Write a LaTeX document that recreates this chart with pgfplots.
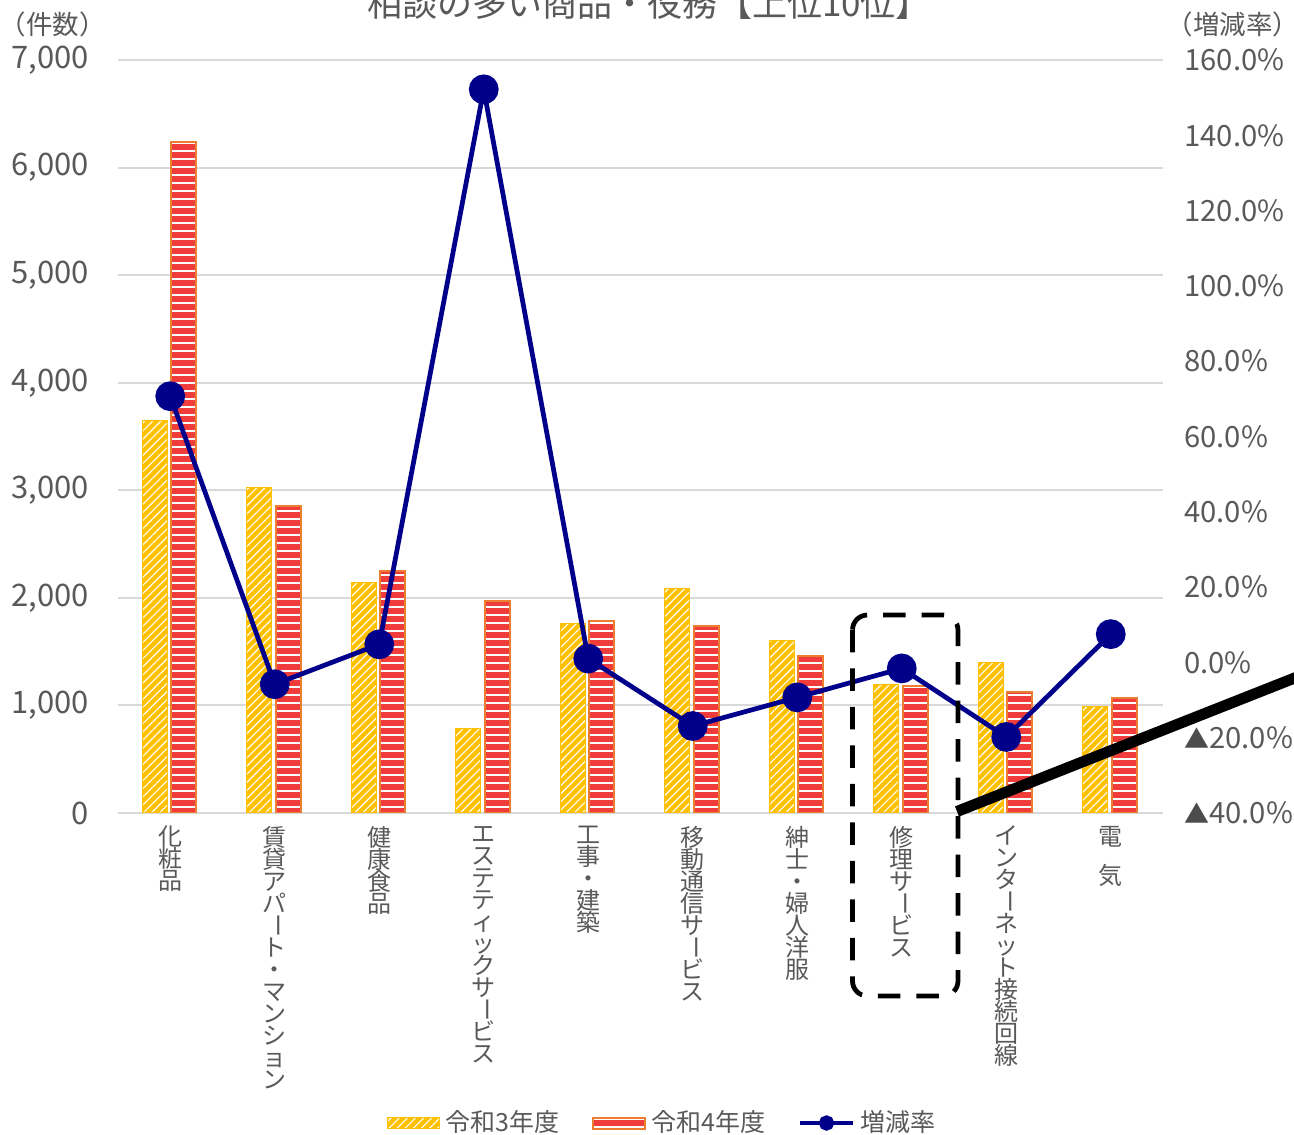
\documentclass[border=0pt]{standalone}
\usepackage{fontspec}
\setmainfont{Noto Sans CJK JP}
\usepackage{graphicx}
\usepackage{pgfplots}
\usepackage{pgfplotstable}
\pgfplotsset{compat=1.18}
\usetikzlibrary{patterns.meta}

\definecolor{txt}{RGB}{89,89,89}
\definecolor{gridc}{RGB}{217,217,217}
\definecolor{r3fill}{RGB}{255,192,0}
\definecolor{r4fill}{RGB}{241,60,60}
\definecolor{r4edge}{RGB}{237,125,49}
\definecolor{navy}{RGB}{0,0,139}

% long vowel mark set upright for stacked labels, in a full-height box
\newcommand\cho{\raisebox{0.16em}[0.86em][0.14em]{\rotatebox[origin=c]{-90}{ー}}}
% minus sign used on the rate axis
\newcommand\tri{{\fontsize{10}{10}\selectfont\color{black!70}▲}}

\pgfplotsset{
  swatch legend/.style={legend image code/.code={%
    \draw[##1] (0pt,-2.2pt) rectangle (20.8pt,2.2pt);}},
  dot legend/.style={legend image code/.code={%
    \draw[mark repeat=2, mark phase=2, ##1]
      plot coordinates {(0pt,0pt) (10.6pt,0pt) (21.2pt,0pt)};}},
}

% x: category index, r3/r4: counts, rate: change in percent
\pgfplotstableread{
x r3 r4 rate
0 3652 6236 70.7
1 3030 2853 -5.8
2 2147 2249 4.8
3 781 1970 152.2
4 1766 1784 1.0
5 2091 1738 -16.9
6 1608 1459 -9.3
7 1199 1180 -1.6
8 1403 1125 -19.8
9 994 1069 7.5
}\datatab

\begin{document}
% stacked labels keep a fixed pitch
\lineskiplimit=-100pt
\begin{tikzpicture}
\pgfplotsset{
  every tick label/.append style={text=txt},
  /pgf/number format/assume math mode=true,
}
\begin{axis}[
  at={(47.2pt,-325.2pt)}, anchor=south west,
  scale only axis, width=418pt, height=301.2pt,
  xmin=-0.5, xmax=9.5, ymin=0, ymax=7000,
  ytick={0,1000,...,7000},
  /pgf/number format/1000 sep={,},
  ymajorgrids, grid style={gridc, line width=0.8pt},
  axis line style={draw=none},
  major tick length=0pt,
  yticklabel style={font=\fontsize{12.4}{13}\selectfont, xshift=-8pt},
  xtick={0,...,9},
  xticklabels={
    {化\\粧\\品},
    {賃\\貸\\ア\\パ\\\cho\\ト\\・\\マ\\ン\\シ\\ョ\\ン},
    {健\\康\\食\\品},
    {エ\\ス\\テ\\テ\\ィ\\ッ\\ク\\サ\\\cho\\ビ\\ス},
    {工\\事\\・\\建\\築},
    {移\\動\\通\\信\\サ\\\cho\\ビ\\ス},
    {紳\\士\\・\\婦\\人\\洋\\服},
    {修\\理\\サ\\\cho\\ビ\\ス},
    {イ\\ン\\タ\\\cho\\ネ\\ッ\\ト\\接\\続\\回\\線},
    {電\\\raisebox{-7pt}{気}}
  },
  xticklabel style={font=\fontsize{9.6}{8.8}\selectfont,
    align=center, anchor=north, inner sep=0pt, yshift=-5pt},
  legend style={at={(0.52,-0.4117)}, anchor=center, draw=none, fill=none,
    inner sep=0pt, legend columns=3,
    font=\fontsize{10}{12}\selectfont, text=txt,
    nodes={inner sep=0pt},
    /tikz/every odd column/.append style={column sep=2.2pt},
    /tikz/every even column/.append style={column sep=13pt}},
  legend cell align=left,
]
\addplot[ybar, bar width=10pt, bar shift=-6.2pt,
  fill=r3fill, draw=r3fill, line width=0.4pt,
  postaction={pattern={Lines[angle=45,distance=2.3pt,line width=0.45pt]}, pattern color=white},
  swatch legend]
  table[x=x,y=r3]{\datatab};
\addlegendentry{令和3年度}
\addplot[ybar, bar width=10pt, bar shift=5.4pt,
  fill=r4fill, draw=r4edge, line width=0.8pt,
  postaction={pattern={Lines[angle=0,distance=3.2pt,line width=0.8pt]}, pattern color=white},
  swatch legend]
  table[x=x,y=r4]{\datatab};
\addlegendentry{令和4年度}
\addlegendimage{navy, line width=1.9pt, mark=*, mark size=2.1pt, dot legend}
\addlegendentry{増減率}
\end{axis}

\begin{axis}[
  at={(47.2pt,-325.2pt)}, anchor=south west,
  scale only axis, width=418pt, height=301.2pt,
  xmin=-0.5, xmax=9.5, ymin=-40, ymax=160,
  axis line style={draw=none},
  major tick length=0pt,
  xtick=\empty,
  ytick={-40,-20,...,160},
  yticklabels={\tri40.0\%,\tri20.0\%,0.0\%,20.0\%,40.0\%,60.0\%,80.0\%,100.0\%,120.0\%,140.0\%,160.0\%},
  yticklabel pos=right,
  yticklabel style={font=\fontsize{11.7}{12}\selectfont, xshift=5pt},
]
\addplot[navy, line width=1.9pt, mark=*, mark size=5pt,
  mark options={fill=navy, draw=navy}]
  table[x=x,y=rate]{\datatab};
\end{axis}

% title and axis captions
\node[anchor=base, text=txt, font=\fontsize{14}{15}\selectfont]
  at (259.6pt,-6.6pt) {相談の多い商品・役務【上位10位】};
\node[anchor=base, text=txt, font=\fontsize{10.6}{12}\selectfont]
  at (21pt,-14pt) {（件数）};
\node[anchor=base, text=txt, font=\fontsize{10.6}{12}\selectfont]
  at (493.2pt,-14pt) {（増減率）};

% highlight around one category and pointer line
\draw[black, line width=1.9pt, dash pattern=on 9pt off 6.4pt, rounded corners=6pt]
  (341pt,-246pt) rectangle (383.2pt,-398.4pt);
\draw[black, line width=4.4pt] (382.8pt,-324.6pt) -- (530pt,-266.4pt);

\pgfresetboundingbox
\useasboundingbox (0,0) rectangle (517.6pt,-454pt);
\end{tikzpicture}
\end{document}
